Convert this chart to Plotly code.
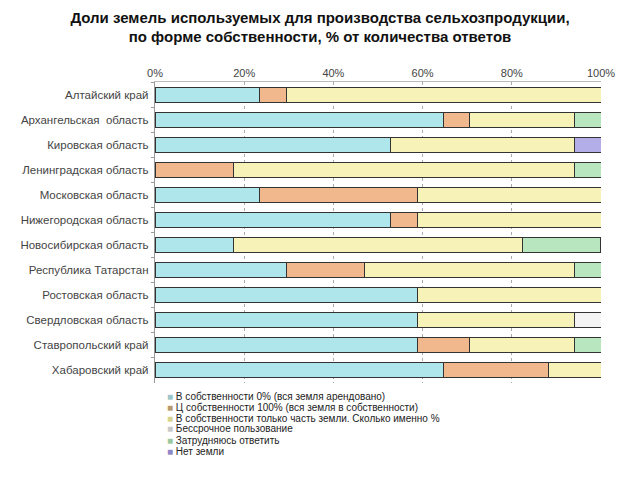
import plotly.graph_objects as go

regions = [
    "Алтайский край", "Архангельская  область", "Кировская область",
    "Ленинградская область", "Московская область", "Нижегородская область",
    "Новосибирская область", "Республика Татарстан", "Ростовская область",
    "Свердловская область", "Ставропольский край", "Хабаровский край",
]
series_names = [
    "В собственности 0% (вся земля арендовано)",
    "Ц собственности 100% (вся земля в собственности)",
    "В собственности только часть земли. Сколько именно %",
    "Бессрочное пользование",
    "Затрудняюсь ответить",
    "Нет земли",
]
own0 =      [23.5, 64.7, 52.9, 0.0, 23.5, 52.9, 17.6, 29.4, 58.8, 58.8, 58.8, 64.7]
own100 =    [5.9, 5.9, 0.0, 17.6, 35.3, 5.9, 0.0, 17.6, 0.0, 0.0, 11.8, 23.5]
own_part =  [70.6, 23.5, 41.2, 76.5, 41.2, 41.2, 64.7, 47.1, 41.2, 35.3, 23.5, 11.8]
perpetual = [0.0, 0.0, 0.0, 0.0, 0.0, 0.0, 0.0, 0.0, 0.0, 5.9, 0.0, 0.0]
unsure =    [0.0, 5.9, 0.0, 5.9, 0.0, 0.0, 17.6, 5.9, 0.0, 0.0, 5.9, 0.0]
no_land =   [0.0, 0.0, 5.9, 0.0, 0.0, 0.0, 0.0, 0.0, 0.0, 0.0, 0.0, 0.0]
tick_vals = [0, 20, 40, 60, 80, 100]
tick_text = ["0%", "20%", "40%", "60%", "80%", "100%"]

series = [own0, own100, own_part, perpetual, unsure, no_land]
colors = ["#aee6ec", "#f0b88c", "#f6f2b8", "#f4f4f4", "#b8e6bf", "#b4aee8"]
legend_marker = ["#9cc6c9", "#b89a6e", "#d8d48e", "#c8c8c8", "#9cc89f", "#8e88c8"]

W, H = 640, 480
ML, MR, MT, MB = 155, 39, 82, 97
plot_h = H - MT - MB

fig = go.Figure()
for name, vals, col in zip(series_names, series, colors):
    fig.add_trace(go.Bar(
        y=regions, x=vals, name=name, orientation="h",
        marker=dict(color=col, line=dict(color="#333333", width=1)),
        showlegend=False,
    ))

# legend drawn as text lines below the plot
legend_top_px = 396
legend_step_px = 11
for i, (n, m) in enumerate(zip(series_names, legend_marker)):
    ypx = legend_top_px + i * legend_step_px
    fig.add_annotation(
        xref="paper", yref="paper",
        x=(165 - ML) / (W - ML - MR), y=(H - MB - ypx) / plot_h,
        xanchor="left", yanchor="middle",
        text=f'<span style="color:{m}">■</span> {n}', showarrow=False,
        font=dict(family="Liberation Sans, Arial", size=10, color="#222222"),
    )

fig.update_layout(
    barmode="stack", bargap=0.4,
    width=W, height=H,
    margin=dict(l=ML, r=MR, t=MT, b=MB),
    paper_bgcolor="white", plot_bgcolor="white",
    title=dict(
        text="<b>Доли земель используемых для производства сельхозпродукции,<br>по форме собственности, % от количества ответов</b>",
        x=0.5, xanchor="center", y=0.953, yanchor="top",
        font=dict(family="Liberation Sans, Arial", size=15, color="#111111"),
    ),
    font=dict(family="Liberation Sans, Arial", size=11.5, color="#333333"),
)
fig.update_xaxes(
    side="top", range=[0, 100], tickvals=tick_vals, ticktext=tick_text,
    showgrid=True, gridcolor="#aaaaaa", griddash="dot", gridwidth=1,
    zeroline=False, showline=True, linecolor="#bbbbbb", ticks="",
    tickfont=dict(size=11, color="#444444"),
)
fig.update_yaxes(
    autorange="reversed", showline=True, linecolor="#999999",
    ticks="outside", tickson="boundaries", ticklen=3, tickcolor="#999999",
    showgrid=False, tickfont=dict(size=11.5, color="#444444"),
    ticksuffix=" ",
)
fig.write_html("out.html", config={"displayModeBar": False},
               post_script="document.body.style.margin='0';")
